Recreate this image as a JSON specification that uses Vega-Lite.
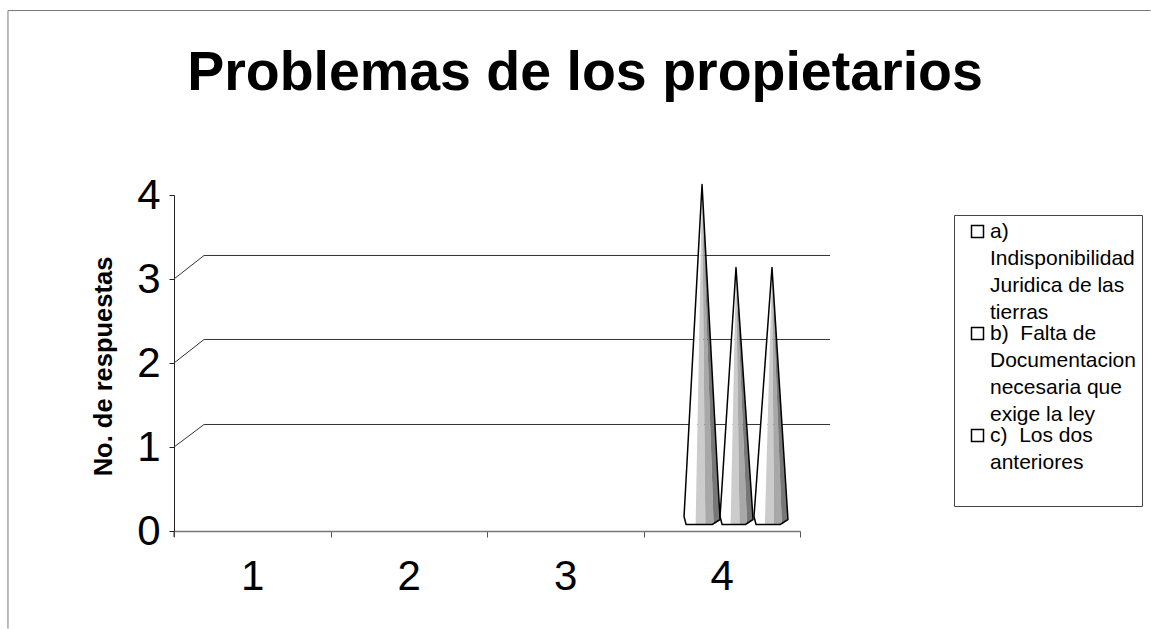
{
"$schema":"https://vega.github.io/schema/vega-lite/v6.json",
"width":626,"height":336,
"autosize":{"type":"none"},
"padding":{"left":174,"top":195,"right":351,"bottom":98},
"background":"white",
"config":{"view":{"stroke":null}},
"title":{"text":"Problemas de los propietarios","font":"Liberation Sans","fontSize":55.5,"fontWeight":"bold","color":"black","anchor":"middle","dx":98,"offset":-149,"baseline":"bottom"},
"datasets":{
"lineas":[
{"s":"marco","n":1,"x":-0.561,"y":-1.16},{"s":"marco","n":2,"x":-0.561,"y":6.196},{"s":"marco","n":3,"x":6.74,"y":6.196},
{"s":"g1","n":1,"x":0.5,"y":1},{"s":"g1","n":2,"x":0.692,"y":1.268},{"s":"g1","n":3,"x":4.692,"y":1.268},
{"s":"g2","n":1,"x":0.5,"y":2},{"s":"g2","n":2,"x":0.692,"y":2.28},{"s":"g2","n":3,"x":4.692,"y":2.28},
{"s":"g3","n":1,"x":0.5,"y":3},{"s":"g3","n":2,"x":0.692,"y":3.28},{"s":"g3","n":3,"x":4.692,"y":3.28},
{"s":"eje","n":1,"x":0.5,"y":0},{"s":"eje","n":2,"x":0.5,"y":-0.07}
],
"bandas":[
{"f":"a1","banda":1,"x":3.759,"y":0.173,"y0":0.173},{"f":"a1","banda":1,"x":3.772,"y":0.62,"y0":0.077},{"f":"a1","banda":1,"x":3.833,"y":2.716,"y0":0.077},{"f":"a1","banda":1,"x":3.874,"y":4.125,"y0":4.125},
{"f":"a2","banda":2,"x":3.833,"y":0.077,"y0":0.077},{"f":"a2","banda":2,"x":3.874,"y":4.125,"y0":0.077},{"f":"a2","banda":2,"x":3.895,"y":0.077,"y0":0.077},
{"f":"a3","banda":3,"x":3.874,"y":4.125,"y0":4.125},{"f":"a3","banda":3,"x":3.895,"y":2.976,"y0":0.077},{"f":"a3","banda":3,"x":3.948,"y":0.077,"y0":0.077},
{"f":"a4","banda":4,"x":3.874,"y":4.125,"y0":4.125},{"f":"a4","banda":4,"x":3.948,"y":1.559,"y0":0.077},{"f":"a4","banda":4,"x":3.989,"y":0.137,"y0":0.137},
{"f":"b1","banda":1,"x":3.989,"y":0.173,"y0":0.173},{"f":"b1","banda":1,"x":4.002,"y":0.551,"y0":0.077},{"f":"b1","banda":1,"x":4.0565,"y":2.135,"y0":0.077},{"f":"b1","banda":1,"x":4.091,"y":3.137,"y0":3.137},
{"f":"b2","banda":2,"x":4.0565,"y":0.077,"y0":0.077},{"f":"b2","banda":2,"x":4.091,"y":3.137,"y0":0.077},{"f":"b2","banda":2,"x":4.1135,"y":0.077,"y0":0.077},
{"f":"b3","banda":3,"x":4.091,"y":3.137,"y0":3.137},{"f":"b3","banda":3,"x":4.1135,"y":2.167,"y0":0.077},{"f":"b3","banda":3,"x":4.162,"y":0.077,"y0":0.077},
{"f":"b4","banda":4,"x":4.091,"y":3.137,"y0":3.137},{"f":"b4","banda":4,"x":4.162,"y":1.183,"y0":0.077},{"f":"b4","banda":4,"x":4.2,"y":0.137,"y0":0.137},
{"f":"c1","banda":1,"x":4.206,"y":0.173,"y0":0.173},{"f":"c1","banda":1,"x":4.219,"y":0.508,"y0":0.077},{"f":"c1","banda":1,"x":4.2754,"y":1.961,"y0":0.077},{"f":"c1","banda":1,"x":4.321,"y":3.137,"y0":3.137},
{"f":"c2","banda":2,"x":4.2754,"y":0.077,"y0":0.077},{"f":"c2","banda":2,"x":4.321,"y":3.137,"y0":0.077},{"f":"c2","banda":2,"x":4.334,"y":0.077,"y0":0.077},
{"f":"c3","banda":3,"x":4.321,"y":3.137,"y0":3.137},{"f":"c3","banda":3,"x":4.334,"y":2.506,"y0":0.077},{"f":"c3","banda":3,"x":4.384,"y":0.077,"y0":0.077},
{"f":"c4","banda":4,"x":4.321,"y":3.137,"y0":3.137},{"f":"c4","banda":4,"x":4.384,"y":1.284,"y0":0.077},{"f":"c4","banda":4,"x":4.423,"y":0.137,"y0":0.137}
],
"conos":[
{"s":"a","x":3.759,"y":0.173,"y0":0.173},{"s":"a","x":3.772,"y":0.613,"y0":0.077},{"s":"a","x":3.874,"y":4.125,"y0":0.077},{"s":"a","x":3.938,"y":1.911,"y0":0.077},{"s":"a","x":3.989,"y":0.137,"y0":0.137},
{"s":"b","x":3.989,"y":0.173,"y0":0.173},{"s":"b","x":4.002,"y":0.54,"y0":0.077},{"s":"b","x":4.091,"y":3.137,"y0":0.077},{"s":"b","x":4.149,"y":1.55,"y0":0.077},{"s":"b","x":4.2,"y":0.137,"y0":0.137},
{"s":"c","x":4.206,"y":0.173,"y0":0.173},{"s":"c","x":4.219,"y":0.505,"y0":0.077},{"s":"c","x":4.321,"y":3.137,"y0":0.077},{"s":"c","x":4.372,"y":1.64,"y0":0.077},{"s":"c","x":4.423,"y":0.137,"y0":0.137}
],
"valores":[
{"categoria":4,"respuestas":4,"serie":"a)\nIndisponibilidad\nJuridica de las\ntierras"},
{"categoria":4,"respuestas":3,"serie":"b)\u00a0\u00a0Falta de\nDocumentacion\nnecesaria que\nexige la ley"},
{"categoria":4,"respuestas":3,"serie":"c)\u00a0\u00a0Los dos\nanteriores\n "}
]
},
"layer":[
{"data":{"name":"lineas"},
 "mark":{"type":"line","clip":false,"strokeWidth":1},
 "encoding":{
  "x":{"field":"x","type":"quantitative","scale":{"domain":[0.5,4.5],"nice":false,"zero":false},
   "axis":{"title":null,"values":[0.5,1,1.5,2,2.5,3,3.5,4,4.5],"grid":false,"labelExpr":"datum.value % 1 == 0 ? '' + datum.value : ''","labelFont":"Liberation Sans","labelFontSize":42,"labelColor":"black","labelPadding":19,"labelFlush":false,"labelOverlap":false,"tickColor":"#555","tickSize":6,"domainColor":"#777","domainWidth":1.5,"tickOpacity":{"condition":{"test":"datum.value % 1 != 0","value":1},"value":0}}},
  "y":{"field":"y","type":"quantitative","scale":{"domain":[0,4],"nice":false},
   "axis":{"title":"No. de respuestas","values":[0,1,2,3,4],"format":"d","grid":false,"labelFont":"Liberation Sans","labelFontSize":42,"labelColor":"black","labelPadding":9,"labelFlush":false,"tickColor":"#222","tickSize":5,"domainColor":"#222","titleFont":"Liberation Sans","titleFontSize":25.5,"titleFontWeight":"bold","titleColor":"black","titlePadding":20,"titleY":171}},
  "detail":{"field":"s"},
  "order":{"field":"n"},
  "stroke":{"condition":{"test":"datum.s == 'marco'","value":"#777"},"value":"#333"},
  "strokeWidth":{"condition":{"test":"datum.s == 'marco'","value":2},"value":1}
 }},
{"data":{"name":"bandas"},
 "mark":{"type":"area","clip":false},
 "encoding":{
  "x":{"field":"x","type":"quantitative"},
  "y":{"field":"y","type":"quantitative"},
  "y2":{"field":"y0"},
  "detail":{"field":"f"},
  "fill":{"condition":[{"test":"datum.banda == 1","value":"#ffffff"},{"test":"datum.banda == 2","value":"#cccccc"},{"test":"datum.banda == 3","value":"#a8a8a8"}],"value":"#777777"}
 }},
{"data":{"name":"conos"},
 "mark":{"type":"area","clip":false,"stroke":"black","strokeWidth":1.5,"strokeJoin":"round","fill":"transparent"},
 "encoding":{
  "x":{"field":"x","type":"quantitative"},
  "y":{"field":"y","type":"quantitative"},
  "y2":{"field":"y0"},
  "detail":{"field":"s"}
 }},
{"data":{"name":"valores"},
 "mark":{"type":"point","opacity":0,"filled":true},
 "encoding":{
  "x":{"field":"categoria","type":"quantitative"},
  "y":{"field":"respuestas","type":"quantitative"},
  "color":{"field":"serie","type":"nominal","scale":{"range":["white","white","white"]},
   "legend":{"title":null,"orient":"none","legendX":780,"legendY":20,"strokeColor":"#444","fillColor":"white","padding":6,"symbolType":"square","symbolSize":144,"symbolOffset":7,"symbolOpacity":1,"symbolFillColor":"white","symbolStrokeColor":"black","symbolStrokeWidth":1.5,"labelFont":"Liberation Sans","labelFontSize":21,"labelColor":"black","labelLimit":0,"labelOffset":2,"labelBaseline":"top","rowPadding":-2,
    "encoding":{"labels":{"lineHeight":{"value":27},"dy":{"value":-11}}},
    "labelExpr":"split(datum.label, '\\n')"}}
 }}
]
}
